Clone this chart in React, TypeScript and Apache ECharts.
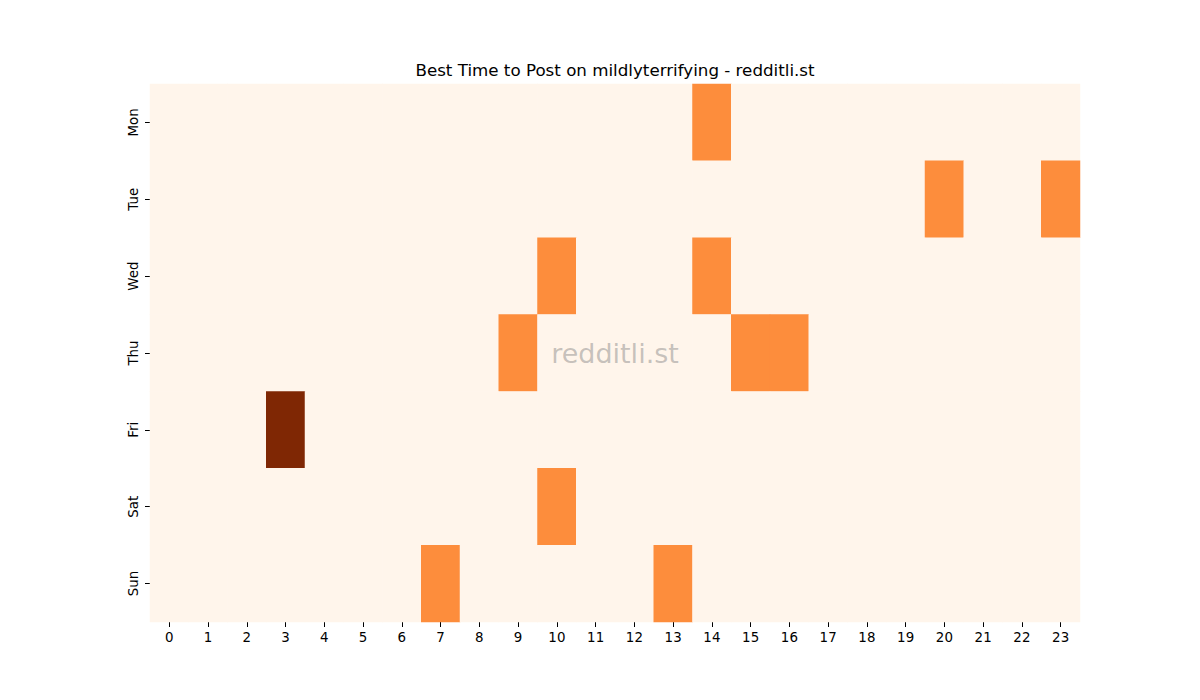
import React, { useEffect, useRef } from "react";
import * as echarts from "echarts";

const hours = Array.from({ length: 24 }, (_, i) => String(i));
const days = ["Mon", "Tue", "Wed", "Thu", "Fri", "Sat", "Sun"];
// [hour, dayIndex, value] for non-zero cells; everything else is 0
const activeCells: [number, number, number][] = [
  [14, 0, 1],
  [20, 1, 1],
  [23, 1, 1],
  [10, 2, 1],
  [14, 2, 1],
  [9, 3, 1],
  [15, 3, 1],
  [16, 3, 1],
  [3, 4, 2],
  [10, 5, 1],
  [7, 6, 1],
  [13, 6, 1],
];
const titleText = "Best Time to Post on mildlyterrifying - redditli.st";
const watermark = "redditli.st";

export default function App() {
  const ref = useRef<HTMLDivElement>(null);
  useEffect(() => {
    const chart = echarts.init(ref.current!, null, { renderer: "svg" });
    const lookup = new Map<string, number>();
    activeCells.forEach(([h, d, v]) => lookup.set(h + "," + d, v));
    const data: [number, number, number][] = [];
    for (let d = 0; d < days.length; d++) {
      for (let h = 0; h < hours.length; h++) {
        data.push([h, d, lookup.get(h + "," + d) ?? 0]);
      }
    }
    const font = "DejaVu Sans";
    chart.setOption({
      animation: false,
      backgroundColor: "#ffffff",
      textStyle: { fontFamily: font },
      grid: { left: 150, right: 120, top: 84, bottom: 78 },
      xAxis: {
        type: "category",
        data: hours,
        axisLine: { show: false },
        axisTick: { show: true, alignWithLabel: true, length: 5, lineStyle: { color: "#000" } },
        axisLabel: { color: "#000", fontSize: 13.4, fontFamily: font, margin: 9 },
        splitLine: { show: false },
      },
      yAxis: {
        type: "category",
        data: days,
        inverse: true,
        axisLine: { show: false },
        axisTick: { show: true, alignWithLabel: true, length: 5, lineStyle: { color: "#000" } },
        axisLabel: { color: "#000", fontSize: 13.4, fontFamily: font, rotate: 90, margin: 10 },
        splitLine: { show: false },
      },
      visualMap: {
        show: false,
        min: 0,
        max: 2,
        dimension: 2,
        inRange: { color: ["#fff5eb", "#fd8d3c", "#7f2704"] },
      },
      series: [
        {
          type: "heatmap",
          data,
          itemStyle: { borderWidth: 0 },
          emphasis: { disabled: true },
        },
      ],
      graphic: [
        {
          type: "text",
          x: 615,
          y: 70,
          style: {
            text: titleText,
            textAlign: "center",
            textVerticalAlign: "middle",
            fontSize: 16.7,
            fontFamily: font,
            fill: "#000",
          },
        },
        {
          type: "text",
          x: 615,
          y: 353,
          z: 100,
          style: {
            text: watermark,
            textAlign: "center",
            textVerticalAlign: "middle",
            fontSize: 27,
            fontFamily: font,
            fill: "rgba(128,128,128,0.45)",
          },
        },
      ],
    });
    return () => chart.dispose();
  }, []);
  return (
    <div
      ref={ref}
      style={{ position: "fixed", left: 0, top: 0, width: 1200, height: 700 }}
    />
  );
}
